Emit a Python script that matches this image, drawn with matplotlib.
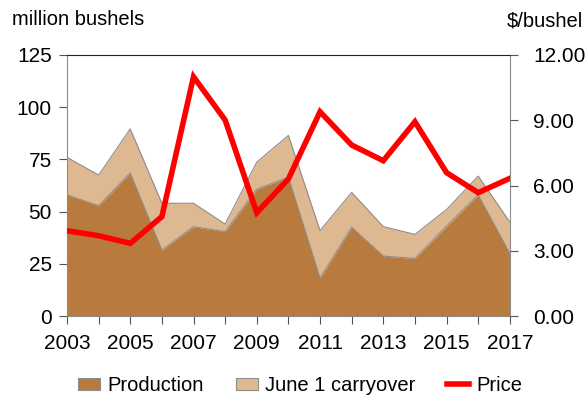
import matplotlib
matplotlib.use("Agg")
import matplotlib.pyplot as plt
from matplotlib.patches import Patch
from matplotlib.lines import Line2D
import numpy as np

plt.rcParams['font.family'] = ['Liberation Sans', 'DejaVu Sans']

years = list(range(2003, 2018))
production = [58, 52.8, 68.5, 31.6, 42.8, 40.4, 60.7, 66.5, 18.2, 42.5, 28.7, 27.6, 43, 58, 30]
total_supply = [76, 67.5, 89.6, 54, 54, 44, 73.7, 86.5, 40.9, 59.2, 42.8, 39.1, 51, 67, 45]
carryover = [t - p for t, p in zip(total_supply, production)]
price = [3.92, 3.69, 3.34, 4.57, 11.0, 9.01, 4.75, 6.3, 9.39, 7.86, 7.14, 8.93, 6.59, 5.67, 6.33]

prod_col = "#B97B3D"
carry_col = "#DEB891"

fig = plt.figure(figsize=(5.85, 4.0), dpi=100)
ax = fig.add_axes([0.1145, 0.21, 0.757, 0.6525])

base = np.array(production)
ax.fill_between(years, 0, base, color=prod_col, lw=0)
ax.fill_between(years, base, base + np.array(carryover), color=carry_col, lw=0)
ax.plot(years, base, color="#8c8c8c", lw=0.8)
ax.plot(years, base + np.array(carryover), color="#8c8c8c", lw=0.8)

ax.set_xlim(2003, 2017)
ax.set_ylim(0, 125)
ax.set_yticks([0, 25, 50, 75, 100, 125])
ax.set_xticks(years)
ax.set_xticklabels([str(y) if (y - 2003) % 2 == 0 else "" for y in years])
ax.tick_params(axis='both', labelsize=15, length=6, color="#555555")
ax.tick_params(axis='x', pad=7)
ax.tick_params(axis='y', pad=5)
for s in ['left', 'right', 'bottom']:
    ax.spines[s].set_color("#8c8c8c")
ax.spines['top'].set_color("#222222")

ax2 = ax.twinx()
ax2.plot(years, price, color="#FF0000", lw=4, solid_joinstyle='miter')
ax2.set_ylim(0, 12)
ax2.set_yticks([0, 3, 6, 9, 12])
ax2.set_yticklabels(["%.2f" % v for v in [0, 3, 6, 9, 12]])
ax2.tick_params(axis='y', labelsize=15, length=6, color="#555555", pad=11)
for s in ax2.spines.values():
    s.set_visible(False)

fig.text(0.02, 0.952, "million bushels", fontsize=14.5, ha='left', va='center')
fig.text(0.997, 0.948, "$/bushel", fontsize=14.5, ha='right', va='center')

handles = [
    Patch(facecolor=prod_col, edgecolor="#8c8c8c", lw=0.8),
    Patch(facecolor=carry_col, edgecolor="#8c8c8c", lw=0.8),
    Line2D([0], [0], color="#FF0000", lw=4),
]
fig.legend(handles, ["Production", "June 1 carryover", "Price"], loc='lower center',
           bbox_to_anchor=(0.513, -0.033), ncol=3, frameon=False, fontsize=14.5,
           handlelength=1.1, handleheight=0.6, columnspacing=1.6, handletextpad=0.35)

fig.savefig("out.png", dpi=100)
